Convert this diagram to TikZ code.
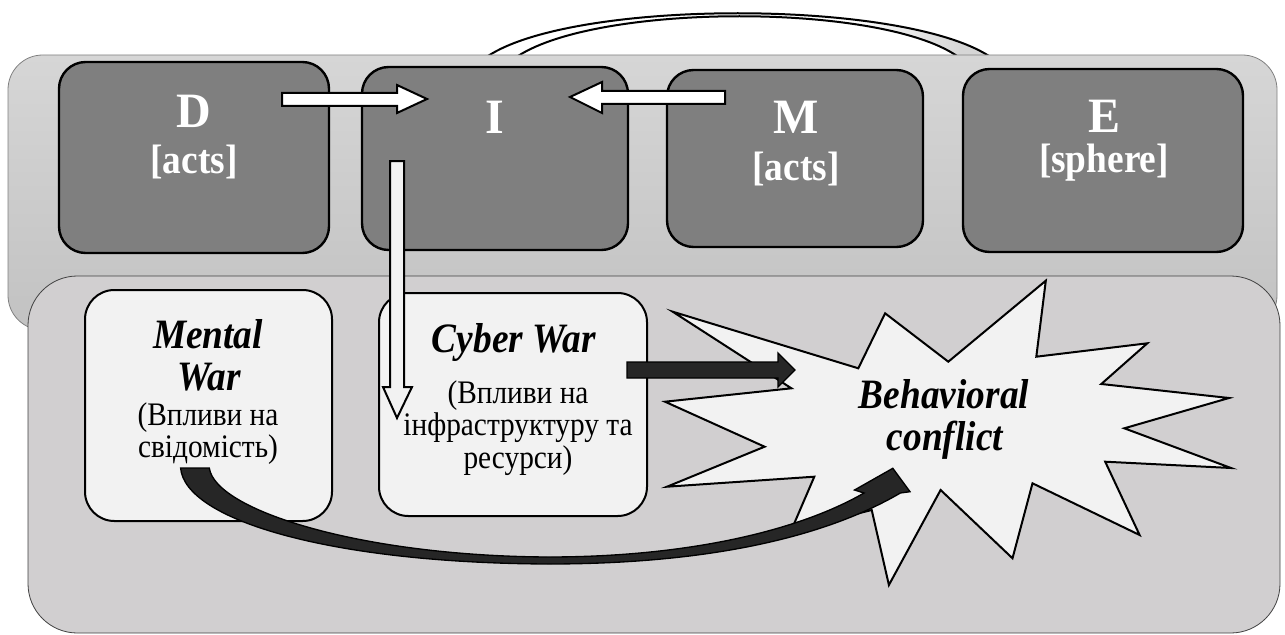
\documentclass[tikz,border=0pt]{standalone}
\usepackage{fontspec}
\setmainfont{Liberation Serif}
\definecolor{bandtop}{HTML}{D6D6D6}
\definecolor{bandbot}{HTML}{C2C2C2}
\definecolor{lowband}{HTML}{D1CFD0}
\definecolor{boxdark}{HTML}{7F7F7F}
\definecolor{boxlight}{HTML}{F2F2F2}
\definecolor{arrowdark}{HTML}{262626}
\begin{document}
\begin{tikzpicture}[x=0.75pt,y=-0.75pt,
  band/.style={rectangle, inner sep=0pt, line width=0.6pt},
  darkbox/.style={rectangle, rounded corners=20pt, fill=boxdark, draw=black, line width=1.8pt, inner sep=0pt},
  lightbox/.style={rectangle, rounded corners=22pt, fill=boxlight, draw=black, line width=1.5pt, inner sep=0pt},
  bigletter/.style={text=white, font=\fontsize{36}{40}\selectfont\bfseries, inner sep=0pt, yscale=1.03},
  tagtext/.style={text=white, font=\fontsize{28}{30}\selectfont\bfseries, inner sep=0pt, yscale=1.1},
  titletext/.style={font=\fontsize{28}{32}\selectfont\bfseries\itshape, inner sep=0pt, anchor=base, yscale=1.12},
  bodytext/.style={font=\fontsize{22}{24}\selectfont, inner sep=0pt, anchor=base, yscale=1.12},
  whitearrow/.style={fill=white, draw=black, line width=1.5pt, line join=miter},
  blackarrow/.style={fill=arrowdark, draw=black, line width=1pt, line join=miter},
  starshape/.style={fill=boxlight, draw=black, line width=1.5pt, line join=miter}
]
\useasboundingbox (0,0) rectangle (1285,635);

% ---- top arc (partly hidden under the top band)
\coordinate (arcOL) at (488,56);
\coordinate (arcOR) at (989,56);
\coordinate (arcIL) at (518,56);
\coordinate (arcIR) at (957,56);
\fill[white] (arcOL) .. controls (575,-1) and (900,-1) .. (arcOR) -- (arcIR) .. controls (880,3) and (600,3) .. (arcIL) -- cycle;
\begin{scope}
  \clip (arcOL) .. controls (575,-1) and (900,-1) .. (arcOR) -- (arcIR) .. controls (880,3) and (600,3) .. (arcIL) -- cycle;
  \shade[left color=white, right color=bandtop] (850,0) rectangle (960,60);
  \fill[bandtop] (960,0) rectangle (1000,60);
\end{scope}
\draw[line width=1.5pt] (arcOL) .. controls (575,-1) and (900,-1) .. (arcOR);
\draw[line width=1.5pt] (arcIL) .. controls (600,3) and (880,3) .. (arcIR);

% ---- bands
\node[band, draw=black!50, top color=bandtop, bottom color=bandbot, rounded corners=26pt,
      minimum width=951.75pt, minimum height=206.25pt] (topband) at (642.5,192.5) {};
\node[band, draw=black!75, fill=lowband, rounded corners=37pt,
      minimum width=939pt, minimum height=267.75pt] (lowband) at (654,454.5) {};

% ---- dark boxes
\node[darkbox, minimum width=202.5pt, minimum height=143.25pt] (D) at (194,157.5) {};
\node[darkbox, minimum width=199.5pt, minimum height=137.25pt] (I) at (495,158.5) {};
\node[darkbox, minimum width=192pt, minimum height=132.75pt] (M) at (795,158.5) {};
\node[darkbox, minimum width=210pt, minimum height=137.25pt] (E) at (1103,160.5) {};

\node[bigletter] (Dl) at (194,111) {D};
\node[tagtext] (Dt) at (194,162) {[acts]};
\node[bigletter] (Il) at (495,117) {I};
\node[bigletter] (Ml) at (796,117) {M};
\node[tagtext] (Mt) at (796,169) {[acts]};
\node[bigletter] (El) at (1104,116) {E};
\node[tagtext] (Et) at (1104,163) {[sphere]};

% ---- light boxes
\node[lightbox, minimum width=185.25pt, minimum height=173.25pt] (mental) at (208.5,405.5) {};
\node[lightbox, minimum width=201pt, minimum height=167.25pt] (cyber) at (513,404.5) {};

\node[titletext] (mt1) at (208,348) {Mental};
\node[titletext] (mt2) at (209,390) {War};
\node[bodytext] (mb1) at (208,425) {(Впливи на};
\node[bodytext] (mb2) at (208,457) {свідомість)};

\node[titletext] (ct1) at (514,352) {Cyber War};
\node[bodytext] (cb1) at (518,403) {(Впливи на};
\node[bodytext] (cb2) at (518,435) {інфраструктуру та};
\node[bodytext] (cb3) at (518,468) {ресурси)};

% ---- star
\draw[starshape] (672.7,311.7) -- (858.3,368.3) -- (885.1,313.3) -- (948.3,361.7)
  -- (1045.8,280.7) -- (1036.3,356.7) -- (1147.3,343.3) -- (1101.3,384)
  -- (1229,398) -- (1124.3,428.3) -- (1231,468) -- (1105.2,461.7)
  -- (1139.6,535) -- (1032.5,483.3) -- (1012.5,558.3) -- (940.6,490)
  -- (888.9,585) -- (871.7,510) -- (791.4,530) -- (814.3,476.7)
  -- (667,486.7) -- (764.6,446.7) -- (665,401.7) -- (791.4,388.3) -- cycle;
\node[titletext] (st1) at (944,408) {Behavioral};
\node[titletext] (st2) at (945,450) {conflict};

% ---- white arrows
\draw[whitearrow] (282,93) -- (397,93) -- (397,85) -- (427,99) -- (397,113) -- (397,106) -- (282,106) -- cycle;
\draw[whitearrow] (725,91) -- (602,91) -- (602,82) -- (570,97) -- (602,113) -- (602,104) -- (725,104) -- cycle;
\draw[whitearrow, fill=boxlight] (390,161) -- (404,161) -- (404,387) -- (412,387) -- (397,418) -- (383,387) -- (390,387) -- cycle;

% ---- dark arrows
\draw[blackarrow] (627,362) -- (778,362) -- (778,353) -- (795,370) -- (778,387) -- (778,378) -- (627,378) -- cycle;
\draw[blackarrow] (180.6,468) -- (209.3,468)
  .. controls (215,510) and (360,556) .. (548,557)
  .. controls (690,557) and (800,530) .. (864,493)
  -- (854.5,490) -- (892.8,468.3) -- (910,491.7) -- (900.4,493)
  .. controls (820,540) and (700,564) .. (548,564)
  .. controls (330,563) and (185,520) .. (180.6,468) -- cycle;
\end{tikzpicture}
\end{document}
